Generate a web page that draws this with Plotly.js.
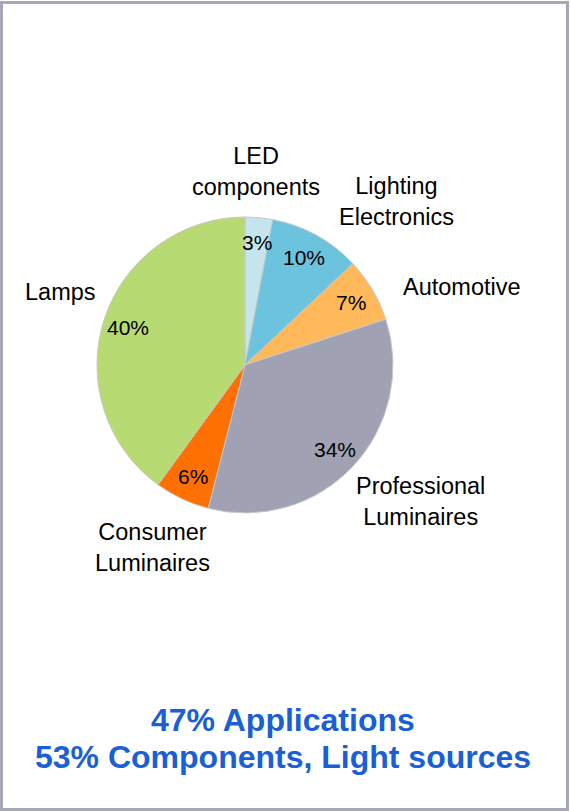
<!DOCTYPE html>
<html><head><meta charset="utf-8">
<script src="https://cdn.plot.ly/plotly-3.0.1.min.js"></script>
<style>html,body{margin:0;padding:0;background:#fff;}#chart{width:570px;height:811px;}</style>
</head><body><div id="chart"></div>
<script>
const categories = ["LED components", "Lighting Electronics", "Automotive", "Professional Luminaires", "Consumer Luminaires", "Lamps"];
const labelLines = ["LED<br>components", "Lighting<br>Electronics", "Automotive", "Professional<br>Luminaires", "Consumer<br>Luminaires", "Lamps"];
const shares = [3, 10, 7, 34, 6, 40];
const colors = ["#c6e4ed", "#6cc3dd", "#ffb95b", "#a0a2b3", "#ff7002", "#b7da73"];
const summaryLines = ["47% Applications", "53% Components, Light sources"];

const W = 570, H = 811;
const cx = 245, cy = 365, R = 148;
const total = shares.reduce((a, b) => a + b, 0);

// outside label placement (pixel centres)
const labelPos = [[256, 171], [397, 201], [462, 287], [420, 502], [152, 547], [60, 292]];

const annotations = [];
let cum = 0;
shares.forEach((v, i) => {
  const th = 2 * Math.PI * (cum + v / 2) / total;
  cum += v;
  const r = 0.83 * R;
  const px = cx + r * Math.sin(th), py = cy - r * Math.cos(th);
  annotations.push({xref: 'paper', yref: 'paper', x: px / W, y: 1 - py / H, xanchor: 'center', yanchor: 'middle',
    text: Math.round(v / total * 100) + '%', showarrow: false,
    font: {family: 'Liberation Sans, Arial, sans-serif', size: 21, color: '#000'}});
  annotations.push({xref: 'paper', yref: 'paper', x: labelPos[i][0] / W, y: 1 - labelPos[i][1] / H,
    xanchor: 'center', yanchor: 'middle', text: labelLines[i], showarrow: false,
    font: {family: 'Liberation Sans, Arial, sans-serif', size: 23.5, color: '#000'}});
});
const summaryY = [720, 757];
summaryLines.forEach((t, i) => {
  annotations.push({xref: 'paper', yref: 'paper', x: 283 / W, y: 1 - summaryY[i] / H, xanchor: 'center', yanchor: 'middle',
    text: '<b>' + t + '</b>', showarrow: false,
    font: {family: 'Liberation Sans, Arial, sans-serif', size: 32, color: '#1a5fd6'}});
});

const trace = {
  type: 'pie', labels: categories, values: shares, sort: false, direction: 'clockwise', rotation: 0,
  marker: {colors: colors, line: {color: '#c8c8c8', width: 1}},
  textinfo: 'none', hoverinfo: 'label+percent', showlegend: false,
  domain: {x: [(cx - R) / W, (cx + R) / W], y: [1 - (cy + R) / H, 1 - (cy - R) / H]}
};

const layout = {
  width: W, height: H, margin: {l: 0, r: 0, t: 0, b: 0},
  paper_bgcolor: '#fff', showlegend: false,
  annotations: annotations,
  shapes: [{type: 'rect', xref: 'paper', yref: 'paper', x0: 1.5 / W, x1: 1 - 2.5 / W, y0: 1.5 / H, y1: 1 - 2.5 / H,
    line: {color: '#a6a8b8', width: 3}, fillcolor: 'rgba(0,0,0,0)'}]
};
Plotly.newPlot('chart', [trace], layout, {displayModeBar: false, staticPlot: true});
</script></body></html>
